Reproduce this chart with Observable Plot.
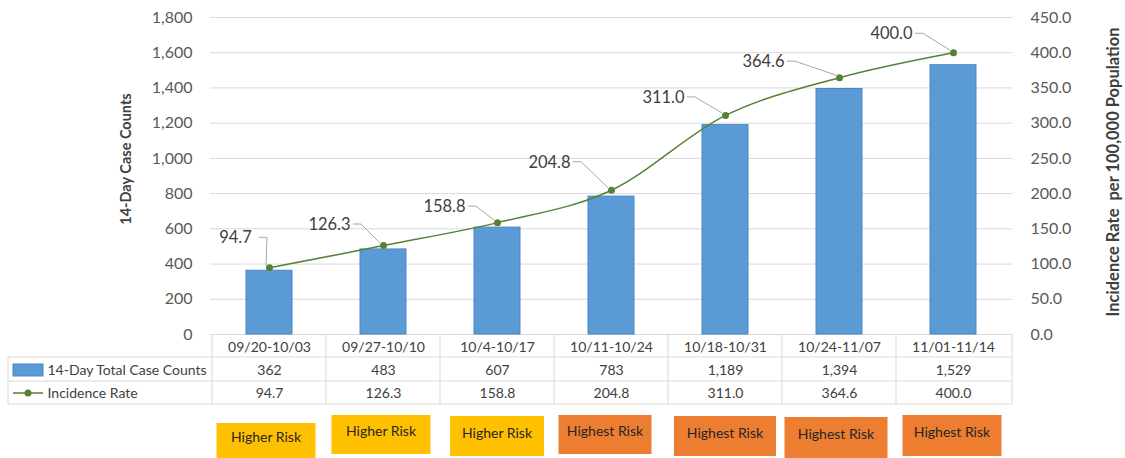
<!DOCTYPE html>
<html><head><meta charset="utf-8">
<script src="https://cdn.jsdelivr.net/npm/d3@7"></script>
<script src="https://cdn.jsdelivr.net/npm/@observablehq/plot@0.6"></script>
<style>
body{margin:0;background:#fff}
#chart{position:relative;width:1125px;height:458px}
</style>
</head><body><div id="chart"></div>
<script>
// ---- data ----
const periods = ["09/20-10/03","09/27-10/10","10/4-10/17","10/11-10/24","10/18-10/31","10/24-11/07","11/01-11/14"];
const caseCounts = [362,483,607,783,1189,1394,1529];
const incidenceRates = [94.7,126.3,158.8,204.8,311.0,364.6,400.0];
const riskLevels = ["Higher Risk","Higher Risk","Higher Risk","Highest Risk","Highest Risk","Highest Risk","Highest Risk"];
const leftTicks = [0,200,400,600,800,1000,1200,1400,1600,1800];
const rightTicks = [0,50,100,150,200,250,300,350,400,450];
const seriesNames = ["14-Day Total Case Counts","Incidence Rate"];
const axisTitles = ["14-Day Case Counts","Incidence Rate  per 100,000 Population"];

// ---- layout (pixels) ----
const labelOffsets = [[-34,-30],[-54,-21],[-53,-16],[-62,-28],[-62,-18],[-76,-16],[-62,-19]];
// [dx from band centre, top, bottom, width]
const boxLayout = [[-3,423,458,99],[-2,415,454,99],[0,416,456,94],[-6,415,454,93],[0,416,456,102],[-3,417,458,103],[-1,415,456,99]];
const riskColors = {"Higher Risk":"#FFC000","Highest Risk":"#ED7D31"};

const k = leftTicks[leftTicks.length-1] / rightTicks[rightTicks.length-1];
const rows = periods.map((p,i)=>({period:p, cases:caseCounts[i], rate:incidenceRates[i], risk:riskLevels[i]}));
const fmtInt = d3.format(",");
const fmtRate = d => d.toFixed(1);
const FONT = "Lato, 'Open Sans', sans-serif";
const BLUE = "#5B9BD5", BLUE_EDGE = "#4A86C5", GREEN = "#548235", GRID = "#D9D9D9", TXT = "#404040";

function tableGrid(index, scales, values, dim) {
  const x = scales.x;
  const bottom = dim.height - dim.marginBottom;
  const right = dim.width - dim.marginRight;
  const g = d3.create("svg:g").attr("stroke", GRID).attr("fill","none");
  const gap = (x.step() - x.bandwidth())/2;
  const xs = periods.map(p => x(p) - gap).concat([right]);
  const rowY = [bottom+23, bottom+47, bottom+70];
  xs.forEach(v => g.append("line").attr("x1",v).attr("x2",v).attr("y1",bottom).attr("y2",rowY[2]));
  g.append("line").attr("x1",8).attr("x2",8).attr("y1",rowY[0]).attr("y2",rowY[2]);
  rowY.forEach(v => g.append("line").attr("x1",8).attr("x2",right).attr("y1",v).attr("y2",v));
  // legend swatches
  g.append("rect").attr("x",13).attr("y",bottom+30).attr("width",30).attr("height",12)
    .attr("fill",BLUE).attr("stroke",BLUE_EDGE);
  g.append("line").attr("x1",13).attr("x2",43).attr("y1",bottom+59).attr("y2",bottom+59)
    .attr("stroke",GREEN).attr("stroke-width",1.5);
  g.append("circle").attr("cx",28).attr("cy",bottom+59).attr("r",3.5).attr("fill",GREEN).attr("stroke","none");
  return g.node();
}

function leaders(index, scales, values, dim) {
  const x = scales.x, y = scales.y;
  const g = d3.create("svg:g").attr("stroke","#A6A6A6").attr("fill","none").attr("stroke-width",1);
  rows.forEach((d,i) => {
    const px = x(d.period) + x.bandwidth()/2, py = y(d.rate*k);
    const [dx, dy] = labelOffsets[i];
    const lx = px + dx + 24, ly = py + dy;
    const mx = lx + 8;
    g.append("path").attr("d", `M${lx},${ly}H${mx}L${px-3},${py-2}`);
  });
  return g.node();
}

function riskBoxes(index, scales, values, dim) {
  const x = scales.x;
  const g = d3.create("svg:g");
  rows.forEach((d,i) => {
    const [dx, top, bot, w] = boxLayout[i];
    const cx = x(d.period) + x.bandwidth()/2 + dx;
    g.append("rect").attr("x", cx - w/2).attr("y", top).attr("width", w).attr("height", bot-top)
      .attr("fill", riskColors[d.risk]);
    g.append("text").attr("x", cx).attr("y", (top+bot)/2 - 3).attr("dy","0.35em")
      .attr("text-anchor","middle").attr("font-size",14).attr("fill","#262626")
      .attr("font-family", FONT).text(d.risk);
  });
  return g.node();
}

const labelMarks = rows.map((d,i) => Plot.text([d], {
  x:"period", y:r => r.rate*k, text:r => fmtRate(r.rate),
  dx:labelOffsets[i][0], dy:labelOffsets[i][1], fontSize:16.5, fill:TXT
}));

const plot = Plot.plot({
  width:1125, height:458,
  marginTop:17, marginBottom:124, marginLeft:210, marginRight:113,
  style:{fontFamily:FONT, background:"white", overflow:"visible"},
  x:{domain:periods, paddingInner:0.6, paddingOuter:0.3, axis:null},
  y:{domain:[0, leftTicks[leftTicks.length-1]], axis:null},
  marks:[
    Plot.ruleY(leftTicks, {stroke:GRID, strokeWidth:1}),
    tableGrid,
    Plot.barY(rows, {x:"period", y:"cases", fill:BLUE, stroke:BLUE_EDGE, strokeWidth:1}),
    Plot.line(rows, {x:"period", y:d => d.rate*k, stroke:GREEN, strokeWidth:1.5, curve:"cardinal"}),
    Plot.dot(rows, {x:"period", y:d => d.rate*k, r:3.5, fill:GREEN}),
    leaders,
    ...labelMarks,
    // tick labels
    Plot.text(leftTicks, {y:d=>d, text:d=>fmtInt(d), frameAnchor:"left", textAnchor:"end", dx:-18, fontSize:16, fill:"#595959"}),
    Plot.text(rightTicks, {y:d=>d*k, text:d=>fmtRate(d), frameAnchor:"right", textAnchor:"start", dx:18, fontSize:16, fill:"#595959"}),
    // axis titles
    Plot.text([axisTitles[0]], {text:d=>d, frameAnchor:"left", textAnchor:"middle", lineAnchor:"middle", rotate:-90, dx:-84, dy:-17, fontSize:14.5, fontWeight:"bold", fill:TXT}),
    Plot.text([axisTitles[1]], {text:d=>d, frameAnchor:"right", textAnchor:"middle", lineAnchor:"middle", rotate:-90, dx:101, dy:-4, fontSize:16.5, fontWeight:"bold", fill:TXT}),
    // data table
    Plot.text(rows, {x:"period", text:"period", frameAnchor:"bottom", lineAnchor:"middle", dy:13, fontSize:14, fill:TXT}),
    Plot.text(rows, {x:"period", text:d=>fmtInt(d.cases), frameAnchor:"bottom", lineAnchor:"middle", dy:36, fontSize:14, fill:TXT}),
    Plot.text(rows, {x:"period", text:d=>fmtRate(d.rate), frameAnchor:"bottom", lineAnchor:"middle", dy:59, fontSize:14, fill:TXT}),
    Plot.text([seriesNames[0]], {text:d=>d, frameAnchor:"bottom-left", textAnchor:"start", lineAnchor:"middle", dx:47-210, dy:36, fontSize:14, fill:TXT}),
    Plot.text([seriesNames[1]], {text:d=>d, frameAnchor:"bottom-left", textAnchor:"start", lineAnchor:"middle", dx:47-210, dy:59, fontSize:14, fill:TXT}),
    riskBoxes
  ]
});
document.getElementById("chart").appendChild(plot);
</script>
</body></html>
